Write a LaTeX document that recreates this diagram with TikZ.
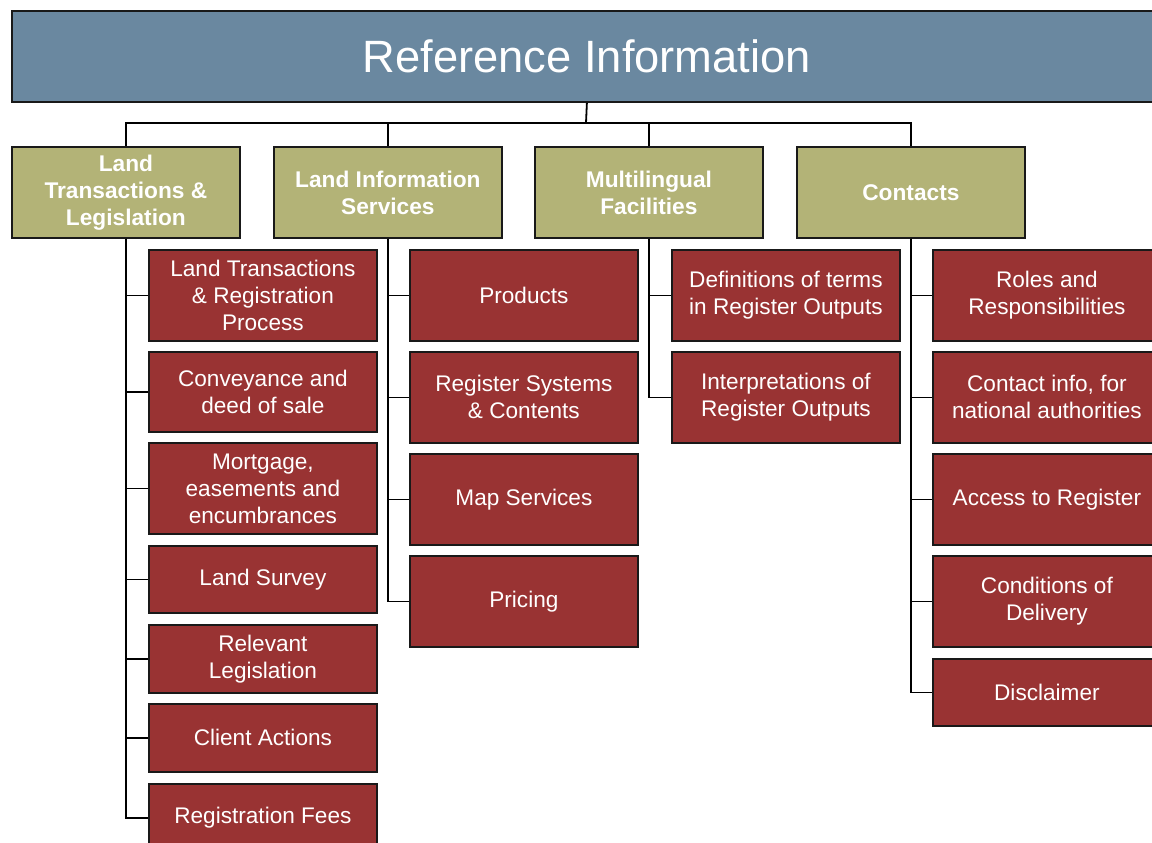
\documentclass[tikz,border=0pt]{standalone}
\usepackage{fontspec}
\setmainfont{Liberation Sans}
\definecolor{titleblue}{HTML}{6A88A0}
\definecolor{catolive}{HTML}{B3B377}
\definecolor{itemred}{HTML}{993333}
\tikzset{
  base/.style={draw=black!90, line width=1.8pt, anchor=north west, inner sep=0pt, align=center, text=white},
  titlebox/.style={base, fill=titleblue, minimum width=1150pt, minimum height=91pt, font=\fontsize{45.3}{55}\selectfont},
  catbox/.style={base, fill=catolive, minimum width=228pt, minimum height=91pt, font=\fontsize{22.7}{27}\selectfont\bfseries},
  itembox/.style={base, fill=itemred, minimum width=228pt, font=\fontsize{22.6}{27}\selectfont},
  conn/.style={line width=1.8pt, black}
}
\begin{document}
\begin{tikzpicture}[x=1pt, y=-1pt]
\useasboundingbox (0,0) rectangle (1152,843);
\clip (0,0) rectangle (1152,843);
\fill[white] (0,0) rectangle (1152,843);

\node[titlebox] (title) at (11,10) {Reference Information};

\node[catbox] (c1) at (11,146) {Land\\Transactions \&\\Legislation};
\node[catbox] (c2) at (273,146) {Land Information\\Services};
\node[catbox] (c3) at (534,146) {Multilingual\\Facilities};
\node[catbox] (c4) at (796,146) {Contacts};

% column 1
\node[itembox, minimum height=91pt] (a1) at (148,249) {Land Transactions\\\& Registration\\Process};
\node[itembox, minimum height=80pt] (a2) at (148,351) {Conveyance and\\deed of sale};
\node[itembox, minimum height=91pt] (a3) at (148,442) {Mortgage,\\easements and\\encumbrances};
\node[itembox, minimum height=67pt] (a4) at (148,545) {Land Survey};
\node[itembox, minimum height=68pt] (a5) at (148,624) {Relevant\\Legislation};
\node[itembox, minimum height=68pt] (a6) at (148,703) {Client Actions};
\node[itembox, minimum height=68pt] (a7) at (148,783) {Registration Fees};

% column 2
\node[itembox, minimum height=91pt] (b1) at (409,249) {Products};
\node[itembox, minimum height=91pt] (b2) at (409,351) {Register Systems\\\& Contents};
\node[itembox, minimum height=91pt] (b3) at (409,453) {Map Services};
\node[itembox, minimum height=91pt] (b4) at (409,555) {Pricing};

% column 3
\node[itembox, minimum height=91pt] (d1) at (671,249) {Definitions of terms\\in Register Outputs};
\node[itembox, minimum height=91pt] (d2) at (671,351) {Interpretations of\\Register Outputs};

% column 4
\node[itembox, minimum height=91pt] (e1) at (932,249) {Roles and\\Responsibilities};
\node[itembox, minimum height=91pt] (e2) at (932,351) {Contact info, for\\national authorities};
\node[itembox, minimum height=91pt] (e3) at (932,453) {Access to Register};
\node[itembox, minimum height=91pt] (e4) at (932,555) {Conditions of\\Delivery};
\node[itembox, minimum height=67pt] (e5) at (932,658) {Disclaimer};

% connectors
\coordinate (bar) at (586,123);
\draw[conn] (title.south) -- (bar);
\draw[conn] (c1.north) |- (bar) -| (c4.north);
\draw[conn] (c2.north) -- (c2.north |- bar);
\draw[conn] (c3.north) -- (c3.north |- bar);

\foreach \i in {a1,a2,a3,a4,a5,a6,a7} \draw[conn] (c1.south) |- (\i.west);
\foreach \i in {b1,b2,b3,b4} \draw[conn] (c2.south) |- (\i.west);
\foreach \i in {d1,d2} \draw[conn] (c3.south) |- (\i.west);
\foreach \i in {e1,e2,e3,e4,e5} \draw[conn] (c4.south) |- (\i.west);
\end{tikzpicture}
\end{document}
